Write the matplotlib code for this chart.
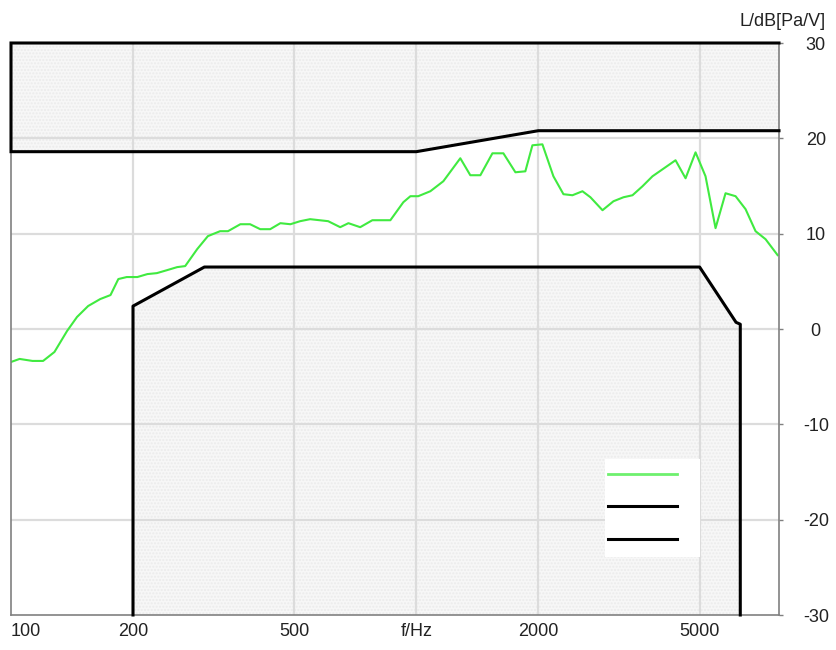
import matplotlib
matplotlib.use("Agg")
import matplotlib.pyplot as plt
from matplotlib.lines import Line2D
from matplotlib.patches import Rectangle

plt.rcParams['font.family'] = ['Liberation Sans', 'DejaVu Sans']

# Measured response (green)
freq = [100, 105, 113, 120, 128, 137.5, 145.5, 155, 166, 176, 184, 193, 205, 217, 229,
        243, 257, 269, 288, 306, 328, 343, 368, 389, 412, 436, 462, 489, 517, 547,
        606, 649, 680, 727, 779, 863, 929, 967, 1011, 1083, 1166, 1284, 1359, 1439,
        1541, 1640, 1756, 1858, 1934, 2047, 2179, 2307, 2428, 2570, 2689, 2880, 3065,
        3245, 3415, 3614, 3826, 4050, 4361, 4617, 4886, 5171, 5474, 5794, 6134, 6492,
        6871, 7273, 7788]
level = [-3.46, -3.14, -3.35, -3.35, -2.41, -0.21, 1.26, 2.41, 3.14, 3.56, 5.24, 5.45,
         5.45, 5.76, 5.86, 6.18, 6.49, 6.6, 8.38, 9.74, 10.26, 10.26, 10.99, 10.99,
         10.47, 10.47, 11.1, 10.99, 11.31, 11.52, 11.31, 10.68, 11.1, 10.68, 11.41,
         11.41, 13.3, 13.93, 13.93, 14.45, 15.5, 17.91, 16.13, 16.13, 18.43, 18.43,
         16.44, 16.54, 19.27, 19.37, 16.02, 14.14, 14.03, 14.45, 13.82, 12.46, 13.4,
         13.82, 14.03, 14.97, 16.02, 16.75, 17.7, 15.81, 18.53, 16.02, 10.58, 14.24,
         13.93, 12.57, 10.26, 9.42, 7.75]

# Upper tolerance limit
upper_f = [100, 1000, 2000, 7850]
upper_db = [18.6, 18.6, 20.8, 20.8]

# Lower tolerance limit
lower_f = [200, 200, 300, 5000, 6150, 6300, 6300]
lower_db = [-30, 2.4, 6.5, 6.5, 0.7, 0.5, -30]

xticks = [100, 200, 500, 1000, 2000, 5000]
xticklabels = ['100', '200', '500', 'f/Hz', '2000', '5000']
yticks = [-30, -20, -10, 0, 10, 20, 30]

fig = plt.figure(figsize=(8.37, 6.5), dpi=100)
ax = fig.add_axes([11/837, 35/650, 768/837, 572/650])
ax.set_xscale('log')
XMIN, XMAX, YMIN, YMAX = 100, 7850, -30, 30
ax.set_xlim(XMIN, XMAX)
ax.set_ylim(YMIN, YMAX)

grid_c = '#dcdcdc'
for xt in xticks[1:]:
    ax.axvline(xt, color=grid_c, lw=1.6, zorder=2)
for yt in yticks[1:-1]:
    ax.axhline(yt, color=grid_c, lw=1.6, zorder=2)

shade_face = '#f7f7f7'
hatch_c = '#ebebeb'
# Upper shaded area
ax.fill_between(upper_f, upper_db, [YMAX] * len(upper_f), facecolor=shade_face,
                edgecolor=hatch_c, hatch='.....', linewidth=0, zorder=1)
# Lower shaded area
ax.fill_between(lower_f, [YMIN] * len(lower_f), lower_db, facecolor=shade_face,
                edgecolor=hatch_c, hatch='.....', linewidth=0, zorder=1)

# Upper limit outline (right edge + limit line + left edge + top)
ax.plot([XMAX] + upper_f[::-1] + [XMIN, XMIN, XMAX],
        [upper_db[-1]] + upper_db[::-1] + [upper_db[0], YMAX, YMAX],
        color='black', lw=2.2, solid_joinstyle='miter', clip_on=False, zorder=4)
# Lower limit outline
ax.plot(lower_f, lower_db, color='black', lw=2.2, clip_on=False, zorder=4)

# Measured curve
ax.plot(freq, level, color='#40ea40', lw=1.5, zorder=3)

# Legend box (no labels)
ax.add_patch(Rectangle((0.773, 0.101), 0.124, 0.172, transform=ax.transAxes,
                       facecolor='white', edgecolor='none', zorder=5))
for yy, cc in [(0.2465, '#6ef06e'), (0.1906, 'black'), (0.1329, 'black')]:
    ax.add_line(Line2D([0.777, 0.867], [yy, yy], transform=ax.transAxes,
                       color=cc, lw=2.2 if cc == 'black' else 2.0, zorder=6))

# Axes styling
for s in ['left', 'right', 'bottom']:
    ax.spines[s].set_color('#808080')
    ax.spines[s].set_linewidth(1.2)
    ax.spines[s].set_zorder(3.5)
ax.spines['top'].set_visible(False)

ax.set_xticks(xticks)
ax.set_xticklabels(xticklabels)
ax.xaxis.set_minor_locator(matplotlib.ticker.NullLocator())
ax.tick_params(axis='x', length=0, pad=6, labelsize=13, colors='#222222')
ax.get_xticklabels()[0].set_horizontalalignment('left')

ax.yaxis.tick_right()
ax.set_yticks(yticks)
ax.set_yticklabels([str(v) for v in yticks])
ax.tick_params(axis='y', length=3, width=1, color='#808080', pad=23.5,
               labelsize=13, labelcolor='#222222')
for lab in ax.get_yticklabels():
    lab.set_horizontalalignment('center')

fig.text(826/837, 1 - 22/650, 'L/dB[Pa/V]', ha='right', va='center',
         fontsize=13, color='#222222')

fig.savefig('out.png', dpi=100)
